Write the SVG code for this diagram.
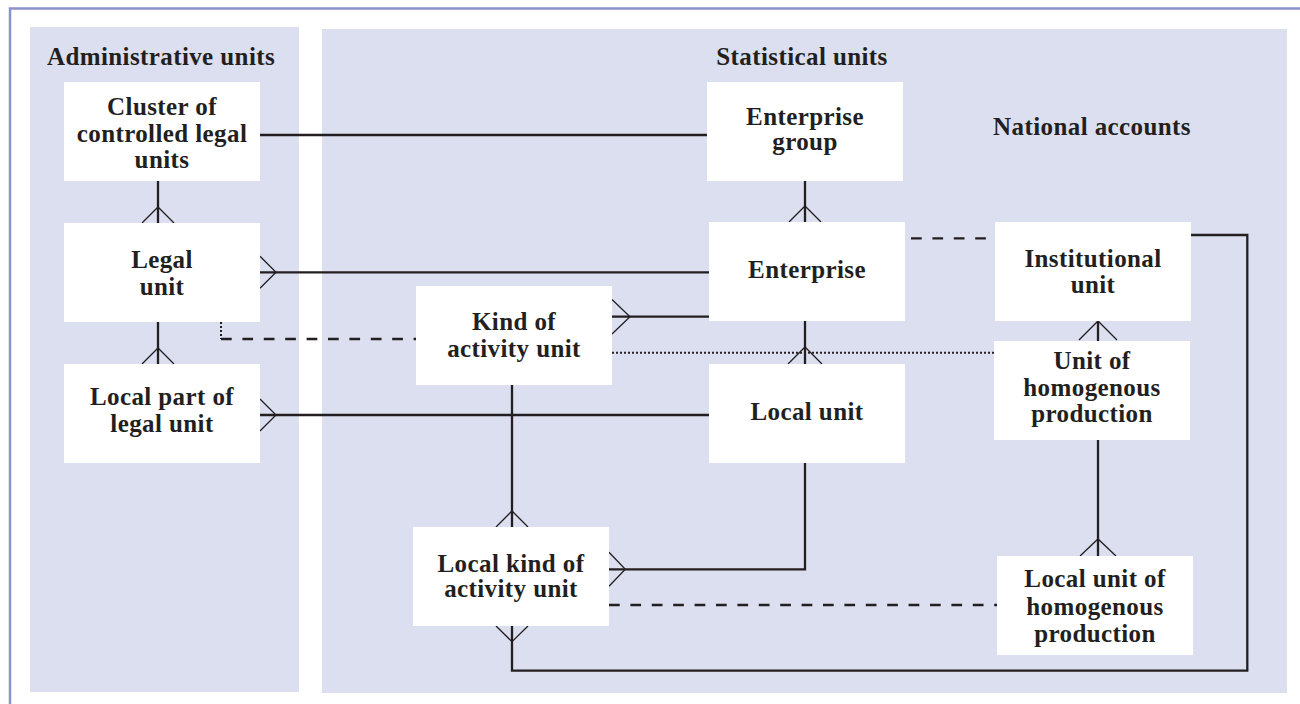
<svg xmlns="http://www.w3.org/2000/svg" width="1300" height="704" viewBox="0 0 1300 704">
<style>
.panel{fill:#dcdff0}
.box{fill:#ffffff}
.t{font-family:"Liberation Serif","Times New Roman",serif;font-weight:bold;font-size:25px;letter-spacing:0.4px;fill:#231f20;text-anchor:middle}
.ln{fill:none;stroke:#231f20;stroke-width:2.3}
.crow{fill:none;stroke:#231f20;stroke-width:1.3}
.dash{fill:none;stroke:#231f20;stroke-width:2.3;stroke-dasharray:10.7 10.7}
.dot{fill:none;stroke:#231f20;stroke-width:2;stroke-dasharray:2 2}
.frame{fill:none;stroke:#8a92cb;stroke-width:2.5}
</style>
<rect x="0" y="0" width="1300" height="704" fill="#ffffff"/>
<path class="frame" d="M10,704 V8.5 H1300"/>
<g id="panel-admin">
<rect class="panel" x="30" y="27" width="269" height="665"/>
<text class="t" x="161" y="65">Administrative units</text>
</g>
<g id="panel-stat">
<rect class="panel" x="322" y="29" width="965" height="664"/>
<text class="t" x="802" y="65">Statistical units</text>
<text class="t" x="1092" y="135">National accounts</text>
</g>
<g id="connectors">
<line class="ln" x1="260" y1="135" x2="707" y2="135"/>
<line class="ln" x1="158" y1="181" x2="158" y2="223"/>
<path class="crow" d="M142,223 L158,207 L174,223"/>
<line class="ln" x1="260" y1="272.3" x2="709" y2="272.3"/>
<path class="crow" d="M260,256.3 L276,272.3 L260,288.3"/>
<line class="ln" x1="158" y1="322" x2="158" y2="364"/>
<path class="crow" d="M142,364 L158,348 L174,364"/>
<line class="ln" x1="260" y1="415" x2="709" y2="415"/>
<path class="crow" d="M260,399 L276,415 L260,431"/>
<path class="dot" d="M221,322 V339"/>
<path class="dash" d="M221,339 H416"/>
<line class="ln" x1="612" y1="316.7" x2="709" y2="316.7"/>
<path class="crow" d="M612,299.5 L630,316.7 L612,334"/>
<line class="ln" x1="805" y1="181" x2="805" y2="222"/>
<path class="crow" d="M789,222 L805,206 L821,222"/>
<line class="ln" x1="805" y1="321" x2="805" y2="364"/>
<path class="crow" d="M788,364 L805,347 L822,364"/>
<path class="dot" d="M612,352.7 H994"/>
<line class="ln" x1="512" y1="385" x2="512" y2="527"/>
<path class="crow" d="M496,527 L512,511 L528,527"/>
<path class="ln" d="M805,463 V569.3 H609"/>
<path class="crow" d="M609,552.3 L625.3,569.3 L609,586.3"/>
<path class="dash" d="M609,605 H997"/>
<line class="ln" x1="1098" y1="321" x2="1098" y2="341"/>
<path class="crow" d="M1079,340 L1098,321 L1117,340"/>
<line class="ln" x1="1098" y1="440" x2="1098" y2="556"/>
<path class="crow" d="M1080,556 L1098,539 L1116,556"/>
<path class="dash" d="M911,238.3 H995"/>
<path class="ln" d="M1191,235 H1247.3 V670.7 H512 V626"/>
<path class="crow" d="M496,626 L512,641.7 L528,626"/>
</g>
<g id="n-cluster">
<rect class="box" x="64" y="82" width="196" height="99"/>
<text class="t" x="162" y="115">Cluster of</text>
<text class="t" x="162" y="141.5">controlled legal</text>
<text class="t" x="162" y="168">units</text>
</g>
<g id="n-legal">
<rect class="box" x="64" y="223" width="196" height="99"/>
<text class="t" x="162" y="268">Legal</text>
<text class="t" x="162" y="295">unit</text>
</g>
<g id="n-localpart">
<rect class="box" x="64" y="364" width="196" height="99"/>
<text class="t" x="162" y="405">Local part of</text>
<text class="t" x="162" y="431.5">legal unit</text>
</g>
<g id="n-entgroup">
<rect class="box" x="707" y="82" width="196" height="99"/>
<text class="t" x="805" y="124.7">Enterprise</text>
<text class="t" x="805" y="150">group</text>
</g>
<g id="n-enterprise">
<rect class="box" x="709" y="222" width="196" height="99"/>
<text class="t" x="807" y="278">Enterprise</text>
</g>
<g id="n-localunit">
<rect class="box" x="709" y="364" width="196" height="99"/>
<text class="t" x="807" y="420">Local unit</text>
</g>
<g id="n-kau">
<rect class="box" x="416" y="286" width="196" height="99"/>
<text class="t" x="514" y="330">Kind of</text>
<text class="t" x="514" y="356.7">activity unit</text>
</g>
<g id="n-lkau">
<rect class="box" x="413" y="527" width="196" height="99"/>
<text class="t" x="511" y="571.7">Local kind of</text>
<text class="t" x="511" y="596.7">activity unit</text>
</g>
<g id="n-institutional">
<rect class="box" x="995" y="222" width="196" height="99"/>
<text class="t" x="1093" y="266.7">Institutional</text>
<text class="t" x="1093" y="293.3">unit</text>
</g>
<g id="n-uhp">
<rect class="box" x="994" y="341" width="196" height="99"/>
<text class="t" x="1092" y="369">Unit of</text>
<text class="t" x="1092" y="395.7">homogenous</text>
<text class="t" x="1092" y="422.3">production</text>
</g>
<g id="n-luhp">
<rect class="box" x="997" y="556" width="196" height="99"/>
<text class="t" x="1095" y="586.7">Local unit of</text>
<text class="t" x="1095" y="615">homogenous</text>
<text class="t" x="1095" y="641.7">production</text>
</g>
</svg>
